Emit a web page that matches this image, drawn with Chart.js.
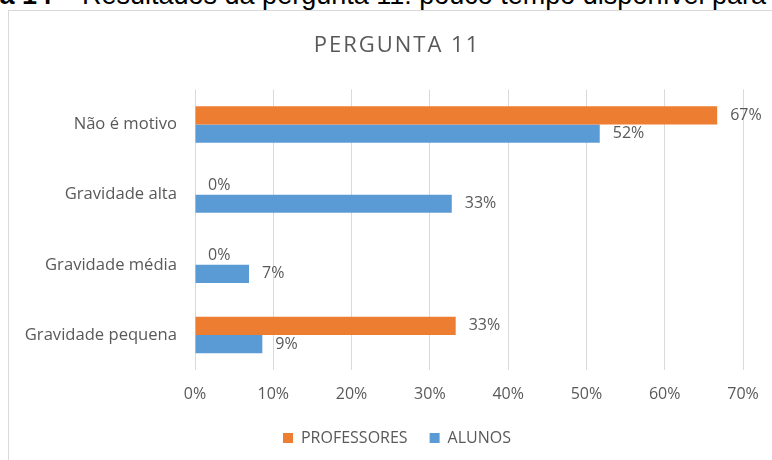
<!DOCTYPE html>
<html>
<head>
<meta charset="utf-8">
<script src="https://cdn.jsdelivr.net/npm/chart.js@4.4.1/dist/chart.umd.min.js"></script>
<style>
  html, body { margin: 0; padding: 0; background: #fff; }
  #wrap { position: relative; width: 772px; height: 460px; overflow: hidden; }
  #caption {
    position: absolute; top: -18px; left: 0; width: 772px; height: 30px;
    overflow: hidden; font: 27px "Liberation Sans", Arial, sans-serif;
    line-height: 27px; white-space: pre; color: #000;
  }
  #caption span { position: absolute; top: 0; }
  #frame {
    position: absolute; left: 8px; top: 10px; width: 800px; height: 500px;
    border: 1px solid #d9d9d9; box-sizing: border-box;
  }
  #chart { position: absolute; left: 0; top: 0; }
</style>
</head>
<body>
<div id="wrap">
  <div id="caption"><span style="right:690px"><b>Figura 14</b> – </span><span style="left:82px">Resultados da pergunta 11: pouco tempo disponível para o</span></div>
  <div id="frame"></div>
  <canvas id="chart" width="772" height="460"></canvas>
</div>
<script>
// categories, top to bottom
const categories = ['Não é motivo', 'Gravidade alta', 'Gravidade média', 'Gravidade pequena'];
const professores = [66.7, 0, 0, 33.3];
const alunos = [51.7, 32.8, 6.9, 8.6];
const seriesNames = ['PROFESSORES', 'ALUNOS'];
const xTicks = [0, 10, 20, 30, 40, 50, 60, 70];

const textColor = '#595959';
Chart.defaults.font.family = '"Open Sans", sans-serif';
Chart.defaults.color = textColor;

// percent labels at the end of each bar
const valueLabels = {
    id: 'valueLabels',
    afterDatasetsDraw(chart) {
        const ctx = chart.ctx;
        ctx.save();
        ctx.font = '16px "Open Sans", sans-serif';
        ctx.fillStyle = textColor;
        ctx.textAlign = 'left';
        ctx.textBaseline = 'middle';
        chart.data.datasets.forEach((ds, i) => {
            chart.getDatasetMeta(i).data.forEach((bar, j) => {
                ctx.fillText(Math.round(ds.data[j]) + '%', bar.x + 13, bar.y);
            });
        });
        ctx.restore();
    }
};

const chart = new Chart(document.getElementById('chart').getContext('2d'), {
    type: 'bar',
    data: {
        labels: categories,
        datasets: [
            { label: seriesNames[0], data: professores, backgroundColor: '#ED7D31' },
            { label: seriesNames[1], data: alunos, backgroundColor: '#5B9BD5' }
        ]
    },
    options: {
        indexAxis: 'y',
        responsive: false,
        animation: false,
        devicePixelRatio: 1,
        categoryPercentage: 0.52,
        barPercentage: 1,
        layout: { padding: { left: 22, right: 0, top: 0, bottom: 4 } },
        scales: {
            x: {
                min: 0,
                max: 70,
                afterBuildTicks(scale) {
                    scale.ticks = xTicks.map(v => ({ value: v }));
                },
                afterFit(scale) {
                    scale.height = 38;
                    scale.paddingRight = 29;
                },
                ticks: {
                    callback: v => v + '%',
                    padding: 15,
                    font: { size: 16 },
                    color: textColor
                },
                grid: { color: '#d9d9d9', drawTicks: false, lineWidth: 1 },
                border: { display: false }
            },
            y: {
                afterFit(scale) {
                    scale.width = 173;
                },
                ticks: { padding: 18, font: { size: 16.6 }, color: textColor },
                grid: { display: false, drawTicks: false },
                border: { display: false }
            }
        },
        plugins: {
            title: {
                display: true,
                text: 'PERGUNTA 11',
                color: textColor,
                font: { size: 22, weight: 'normal' },
                padding: { top: 33, bottom: 30 }
            },
            legend: {
                position: 'bottom',
                labels: {
                    boxWidth: 10,
                    boxHeight: 10,
                    padding: 22,
                    font: { size: 16 },
                    color: textColor
                }
            },
            tooltip: { enabled: false }
        }
    },
    plugins: [valueLabels]
});

// the title in the picture is spaced out a bit
const titleBox = chart.titleBlock;
const titleDraw = titleBox.draw.bind(titleBox);
titleBox.draw = function (area) {
    const ctx = chart.ctx;
    ctx.save();
    ctx.letterSpacing = '2px';
    titleDraw(area);
    ctx.restore();
};
chart.draw();
</script>
</body>
</html>
